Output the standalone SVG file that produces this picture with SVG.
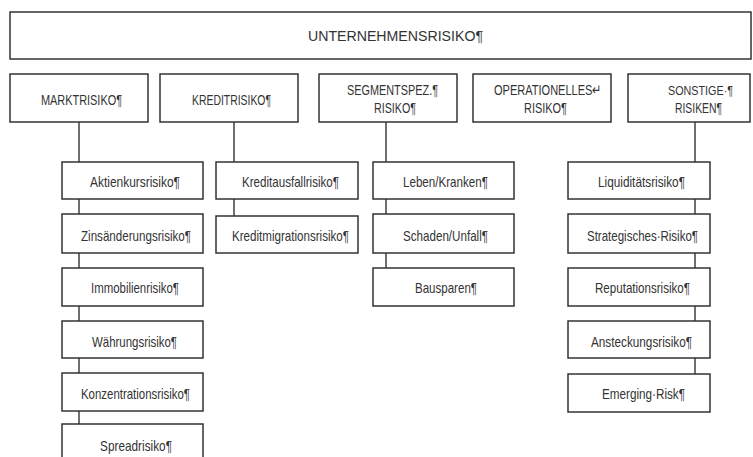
<svg xmlns="http://www.w3.org/2000/svg" width="753" height="457" viewBox="0 0 753 457">
<style>
.b{fill:#fff;stroke:#333;stroke-width:1.5}
.c{fill:none;stroke:#333;stroke-width:1.4}
text{font-family:"Liberation Sans",Arial,sans-serif;font-size:15px;fill:#333}
.s{font-size:13.5px}
</style>
<rect width="753" height="457" fill="#fff"/>
<g id="connectors">
<line class="c" x1="79" y1="122" x2="79" y2="425"/>
<line class="c" x1="234" y1="122" x2="234" y2="216"/>
<line class="c" x1="386" y1="122" x2="386" y2="268"/>
<line class="c" x1="695" y1="122" x2="695" y2="374"/>
</g>
<g id="unternehmensrisiko"><rect class="b" x="10" y="12" width="741" height="47"/><text x="308" y="41" textLength="175" lengthAdjust="spacingAndGlyphs">UNTERNEHMENSRISIKO¶</text></g>
<g id="marktrisiko"><rect class="b" x="10" y="74" width="138" height="48"/><text x="41" y="105" textLength="81" lengthAdjust="spacingAndGlyphs">MARKTRISIKO¶</text></g>
<g id="kreditrisiko"><rect class="b" x="160" y="74" width="138" height="48"/><text x="192" y="105" textLength="79" lengthAdjust="spacingAndGlyphs">KREDITRISIKO¶</text></g>
<g id="segmentspez"><rect class="b" x="319" y="74" width="138" height="48"/><text x="347" y="95" textLength="91" lengthAdjust="spacingAndGlyphs">SEGMENTSPEZ.¶</text><text x="374" y="113" textLength="42" lengthAdjust="spacingAndGlyphs">RISIKO¶</text></g>
<g id="operationelles"><rect class="b" x="473" y="74" width="138" height="48"/><text x="494" y="95" textLength="108" lengthAdjust="spacingAndGlyphs">OPERATIONELLES↵</text><text x="524" y="113" textLength="43" lengthAdjust="spacingAndGlyphs">RISIKO¶</text></g>
<g id="sonstige"><rect class="b" x="628" y="74" width="122" height="48"/><text class="s" x="668" y="95" textLength="65" lengthAdjust="spacingAndGlyphs">SONSTIGE·¶</text><text x="675" y="113" textLength="47" lengthAdjust="spacingAndGlyphs">RISIKEN¶</text></g>
<g id="aktienkursrisiko"><rect class="b" x="62" y="162" width="141" height="37"/><text x="90" y="187" textLength="90" lengthAdjust="spacingAndGlyphs">Aktienkursrisiko¶</text></g>
<g id="zinsaenderungsrisiko"><rect class="b" x="62" y="214" width="141" height="39"/><text x="81" y="241" textLength="110" lengthAdjust="spacingAndGlyphs">Zinsänderungsrisiko¶</text></g>
<g id="immobilienrisiko"><rect class="b" x="62" y="268" width="141" height="38"/><text x="91" y="293" textLength="88" lengthAdjust="spacingAndGlyphs">Immobilienrisiko¶</text></g>
<g id="waehrungsrisiko"><rect class="b" x="62" y="321" width="141" height="37"/><text x="92" y="347" textLength="85" lengthAdjust="spacingAndGlyphs">Währungsrisiko¶</text></g>
<g id="konzentrationsrisiko"><rect class="b" x="62" y="373" width="141" height="38"/><text x="81" y="399" textLength="109" lengthAdjust="spacingAndGlyphs">Konzentrationsrisiko¶</text></g>
<g id="spreadrisiko"><rect class="b" x="62" y="424" width="141" height="40"/><text x="100" y="451" textLength="72" lengthAdjust="spacingAndGlyphs">Spreadrisiko¶</text></g>
<g id="kreditausfallrisiko"><rect class="b" x="216" y="162" width="142" height="37"/><text x="242" y="187" textLength="97" lengthAdjust="spacingAndGlyphs">Kreditausfallrisiko¶</text></g>
<g id="kreditmigrationsrisiko"><rect class="b" x="216" y="216" width="142" height="37"/><text x="232" y="241" textLength="117" lengthAdjust="spacingAndGlyphs">Kreditmigrationsrisiko¶</text></g>
<g id="leben-kranken"><rect class="b" x="373" y="162" width="141" height="37"/><text x="403" y="187" textLength="85" lengthAdjust="spacingAndGlyphs">Leben/Kranken¶</text></g>
<g id="schaden-unfall"><rect class="b" x="373" y="214" width="141" height="39"/><text x="403" y="241" textLength="85" lengthAdjust="spacingAndGlyphs">Schaden/Unfall¶</text></g>
<g id="bausparen"><rect class="b" x="373" y="268" width="141" height="38"/><text x="415" y="293" textLength="62" lengthAdjust="spacingAndGlyphs">Bausparen¶</text></g>
<g id="liquiditaetsrisiko"><rect class="b" x="568" y="162" width="142" height="37"/><text x="598" y="187" textLength="87" lengthAdjust="spacingAndGlyphs">Liquiditätsrisiko¶</text></g>
<g id="strategisches-risiko"><rect class="b" x="568" y="214" width="142" height="39"/><text x="587" y="241" textLength="111" lengthAdjust="spacingAndGlyphs">Strategisches·Risiko¶</text></g>
<g id="reputationsrisiko"><rect class="b" x="568" y="268" width="142" height="38"/><text x="595" y="293" textLength="95" lengthAdjust="spacingAndGlyphs">Reputationsrisiko¶</text></g>
<g id="ansteckungsrisiko"><rect class="b" x="568" y="321" width="142" height="37"/><text x="591" y="347" textLength="101" lengthAdjust="spacingAndGlyphs">Ansteckungsrisiko¶</text></g>
<g id="emerging-risk"><rect class="b" x="568" y="374" width="142" height="38"/><text x="602" y="399" textLength="83" lengthAdjust="spacingAndGlyphs">Emerging·Risk¶</text></g>
</svg>
